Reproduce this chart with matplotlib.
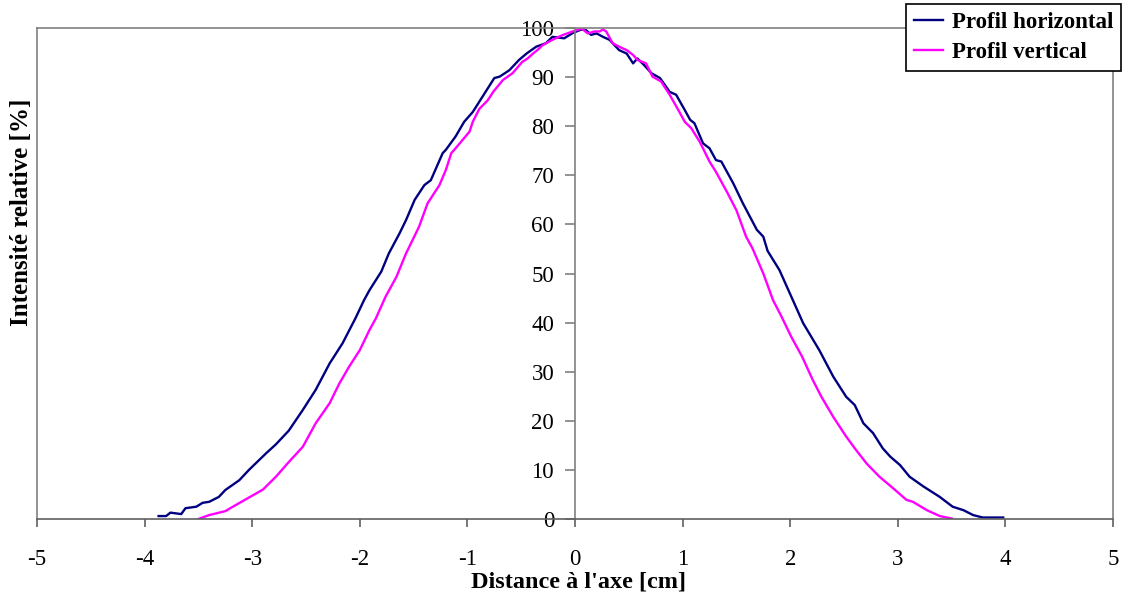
import numpy as np
import matplotlib
matplotlib.use("Agg")
import matplotlib.pyplot as plt

plt.rcParams['font.family'] = ['Liberation Serif', 'DejaVu Serif']
plt.rcParams['axes.unicode_minus'] = False

# profil horizontal (bleu marine)
x_h = [-3.87, -3.80, -3.76, -3.66, -3.62, -3.52, -3.46, -3.40, -3.31, -3.25,
       -3.12, -3.03, -2.87, -2.78, -2.66, -2.53, -2.41, -2.28, -2.16, -2.04,
       -1.96, -1.91, -1.80, -1.73, -1.63, -1.57, -1.49, -1.40, -1.34, -1.23,
       -1.20, -1.11, -1.03, -0.95, -0.86, -0.75, -0.70, -0.61, -0.52, -0.45,
       -0.36, -0.27, -0.21, -0.10, -0.02, 0.06, 0.10, 0.15, 0.20, 0.26,
       0.32, 0.41, 0.48, 0.54, 0.58, 0.64, 0.71, 0.79, 0.88, 0.94,
       1.02, 1.07, 1.11, 1.19, 1.25, 1.31, 1.36, 1.47, 1.56, 1.69,
       1.75, 1.79, 1.90, 2.01, 2.12, 2.27, 2.40, 2.52, 2.60, 2.68,
       2.77, 2.86, 2.93, 3.02, 3.11, 3.24, 3.39, 3.51, 3.61, 3.70,
       3.79, 3.92, 3.98]
y_h = [0.6, 0.6, 1.3, 1.0, 2.2, 2.5, 3.3, 3.5, 4.5, 5.9,
       7.9, 10.0, 13.4, 15.2, 18.0, 22.2, 26.3, 31.7, 35.8, 40.9,
       44.6, 46.6, 50.4, 54.1, 58.2, 60.9, 65.0, 68.0, 69.0, 74.5,
       75.2, 77.9, 80.9, 82.9, 86.0, 89.8, 90.1, 91.4, 93.5, 94.8,
       96.2, 96.9, 98.2, 97.9, 99.0, 99.7, 99.6, 98.6, 98.9, 98.2,
       97.6, 95.5, 94.8, 92.8, 93.8, 92.5, 90.8, 89.8, 87.0, 86.4,
       83.3, 81.3, 80.6, 76.5, 75.5, 73.1, 72.8, 68.4, 64.3, 58.9,
       57.5, 54.6, 50.7, 45.3, 39.9, 34.4, 29.0, 24.9, 23.2, 19.5,
       17.5, 14.4, 12.7, 11.0, 8.6, 6.6, 4.5, 2.5, 1.8, 0.8,
       0.3, 0.3, 0.3]

# profil vertical (magenta)
x_v = [-3.50, -3.40, -3.25, -3.18, -3.06, -2.90, -2.78, -2.66, -2.53, -2.41,
       -2.28, -2.19, -2.10, -2.00, -1.91, -1.85, -1.76, -1.66, -1.57, -1.45,
       -1.37, -1.26, -1.20, -1.15, -1.11, -1.06, -0.98, -0.95, -0.89, -0.81,
       -0.76, -0.67, -0.58, -0.49, -0.44, -0.39, -0.35, -0.30, -0.21, -0.11,
       -0.02, 0.06, 0.12, 0.18, 0.23, 0.26, 0.29, 0.35, 0.41, 0.48,
       0.54, 0.58, 0.66, 0.72, 0.80, 0.88, 0.96, 1.02, 1.08, 1.16,
       1.25, 1.31, 1.41, 1.50, 1.59, 1.65, 1.75, 1.84, 1.92, 2.01,
       2.11, 2.21, 2.29, 2.40, 2.52, 2.60, 2.71, 2.83, 2.96, 3.08,
       3.14, 3.27, 3.39, 3.50]
y_v = [0.0, 0.8, 1.6, 2.5, 4.0, 6.0, 8.6, 11.6, 14.7, 19.5,
       23.6, 27.6, 31.0, 34.4, 38.5, 40.9, 45.3, 49.3, 54.1, 59.5,
       64.3, 68.0, 71.1, 74.5, 75.5, 76.8, 78.9, 80.9, 83.5, 85.3,
       87.0, 89.4, 90.8, 93.1, 93.8, 94.8, 95.5, 96.5, 97.6, 98.6,
       99.3, 99.9, 98.9, 99.3, 99.3, 99.7, 99.3, 96.9, 96.2, 95.5,
       94.5, 93.5, 92.8, 90.1, 89.1, 86.4, 83.3, 80.9, 79.6, 76.8,
       72.8, 70.7, 66.7, 62.9, 57.5, 55.1, 50.0, 44.6, 41.2, 37.1,
       33.1, 28.3, 24.9, 20.8, 16.8, 14.4, 11.3, 8.6, 6.2, 3.9,
       3.5, 1.8, 0.6, 0.1]

x_ticks = list(range(-5, 6))
y_ticks = list(range(0, 101, 10))

fig = plt.figure(figsize=(11.24, 5.94), dpi=100)
ax = fig.add_axes([37/1124, 75/594, 1076/1124, 491/594])

ax.plot(x_h, y_h, color='#000080', lw=1.7, label='Profil horizontal')
ax.plot(x_v, y_v, color='#FF00FF', lw=1.7, label='Profil vertical')

ax.set_xlim(-5, 5)
ax.set_ylim(0, 100)

grey = '#808080'
ax.spines['left'].set_position(('data', 0))
for s in ax.spines.values():
    s.set_color(grey)
    s.set_linewidth(1.2)
ax.spines['bottom'].set_color('#606060')
# cadre gauche
ax.plot([0, 0], [0, 1], transform=ax.transAxes, color=grey, lw=1.2, clip_on=False)

ax.set_xticks(x_ticks)
ax.set_yticks(y_ticks)
ax.tick_params(axis='x', direction='out', length=6, width=1.2, color='#606060',
               labelsize=16.5, pad=15.5)
ax.tick_params(axis='y', direction='out', length=7, width=1.2, color=grey,
               labelsize=16.5, pad=8)

ax.set_xlabel("Distance à l'axe [cm]", fontsize=17.5, fontweight='bold')
ax.set_ylabel("Intensité relative [%]", fontsize=18, fontweight='bold')
ax.xaxis.set_label_coords(0.503, -0.106)
ax.yaxis.set_label_coords(-0.0035, 0.625)

leg = fig.legend(loc='upper right', bbox_to_anchor=(1121/1124, 1 - 4/594),
                 prop={'size': 16.5, 'weight': 'bold'}, fancybox=False,
                 edgecolor='black', framealpha=1, handlelength=1.25,
                 handletextpad=0.4, labelspacing=0.42, borderpad=0.34,
                 borderaxespad=0)
leg.get_frame().set_linewidth(1.2)

fig.savefig('out.png', dpi=100)
